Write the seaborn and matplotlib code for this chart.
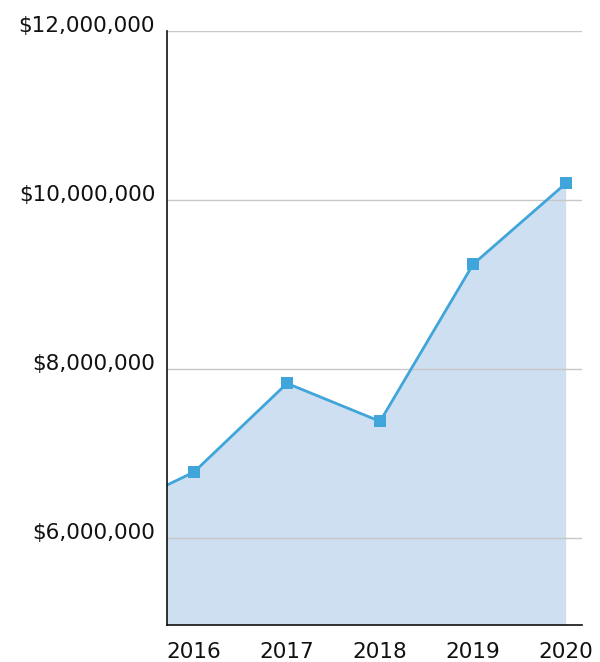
import matplotlib
matplotlib.use("Agg")
import matplotlib.pyplot as plt
import matplotlib.transforms as mtransforms
import seaborn as sns
import pandas as pd

years = [2015, 2016, 2017, 2018, 2019, 2020]
revenue = [6250000, 6780000, 7830000, 7380000, 9240000, 10200000]
y_ticks = [6000000, 8000000, 10000000, 12000000]
y_tick_labels = ["$6,000,000", "$8,000,000", "$10,000,000", "$12,000,000"]
x_ticks = [2016, 2017, 2018, 2019, 2020]

df = pd.DataFrame({"year": years, "revenue": revenue})

sns.set_style("white")
plt.rcParams["font.family"] = ["DejaVu Sans"]

fig = plt.figure(figsize=(6, 6.62), dpi=100)
ax = fig.add_axes([167/600, 1-625/662, (582-167)/600, (625-31)/662])

line_c = "#3fa5da"
fill_c = "#cddff0"

ax.fill_between(df["year"], df["revenue"], 0, color=fill_c, linewidth=0, zorder=1)
sns.lineplot(data=df, x="year", y="revenue", ax=ax, color=line_c, linewidth=2,
             marker="s", markersize=8, markeredgewidth=0, zorder=3)

ax.set_xlim(2015.71, 2020.17)
ax.set_ylim(4970000, 12000000)
ax.set_yticks(y_ticks)
ax.set_yticklabels(y_tick_labels)
ax.set_xticks(x_ticks)
ax.set_xticklabels([str(x) for x in x_ticks])
ax.set_xlabel("")
ax.set_ylabel("")

ax.grid(axis="y", color="#c8c8c8", linewidth=1, zorder=0)
ax.set_axisbelow(False)
for gl in ax.get_ygridlines():
    gl.set_zorder(2)

for s in ["top", "right"]:
    ax.spines[s].set_visible(False)
for s in ["left", "bottom"]:
    ax.spines[s].set_color("#111111")
    ax.spines[s].set_linewidth(1.2)
    ax.spines[s].set_zorder(4)

ax.tick_params(axis="y", length=0, pad=8.5, labelsize=15.5, colors="#111111")
ax.tick_params(axis="x", length=5, width=1.2, direction="out", pad=7,
               labelsize=15.5, colors="#111111")

off = mtransforms.ScaledTranslation(0, 7/100, fig.dpi_scale_trans)
for lab in ax.get_yticklabels():
    lab.set_transform(lab.get_transform() + off)

fig.savefig("out.png", dpi=100)
